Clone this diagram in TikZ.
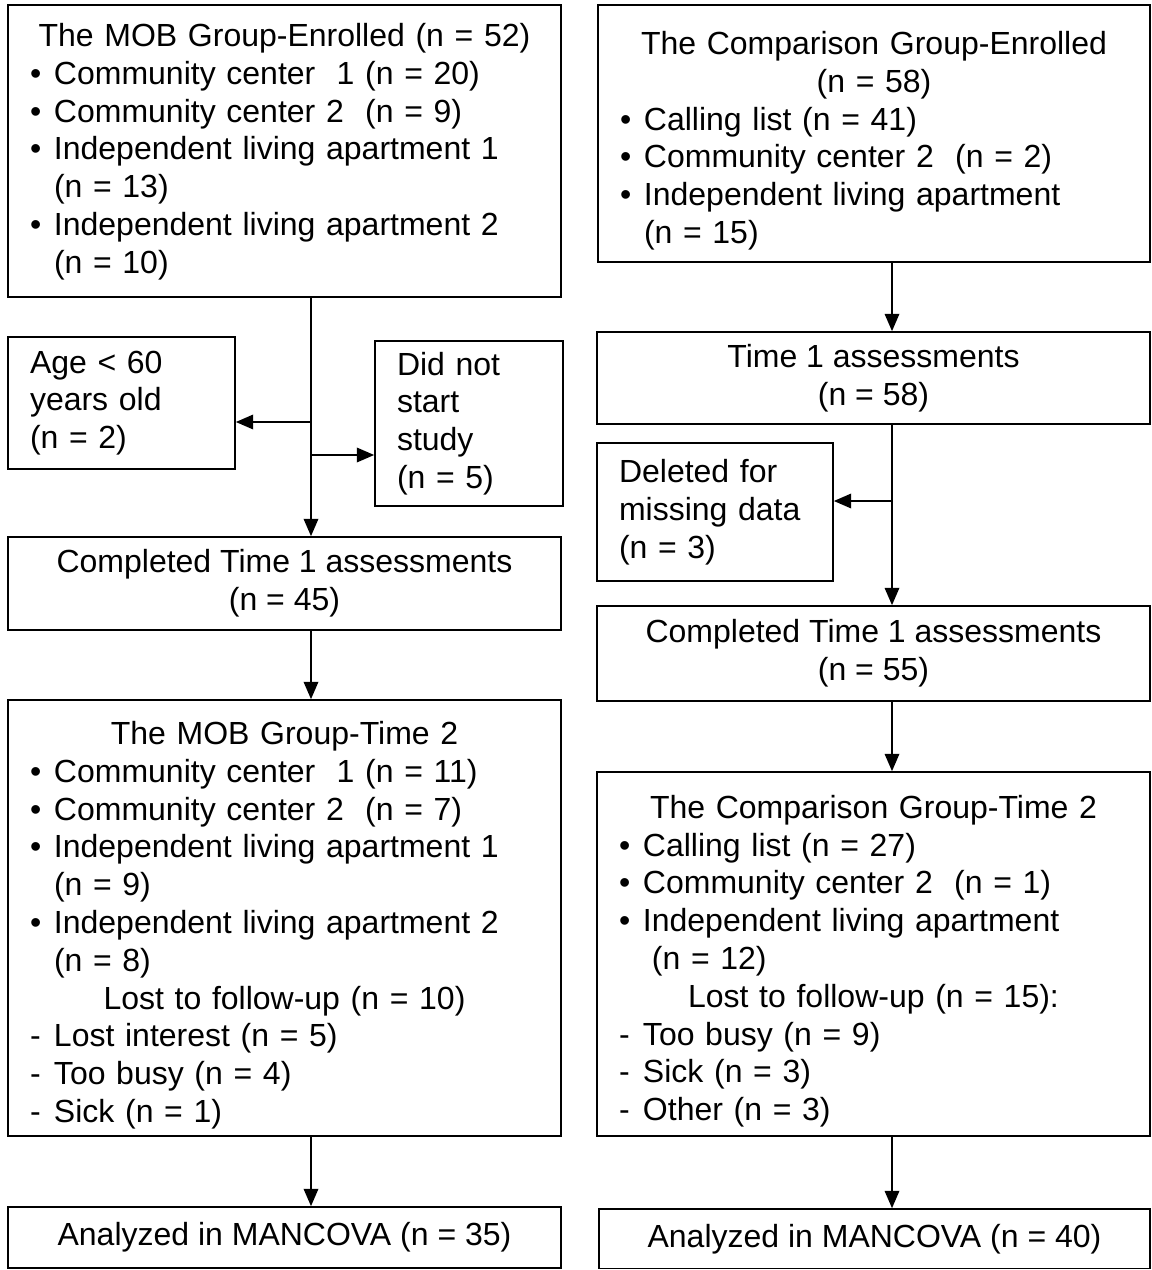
\documentclass[tikz,border=0pt]{standalone}
\usepackage{fontspec}
\setmainfont{Liberation Sans}
\usetikzlibrary{arrows.meta}

\newcommand{\hd}[1]{\par\centerline{#1}}
\newcommand{\itm}[2]{\par\hangindent=18pt\hangafter=1\noindent\makebox[18pt][l]{#1}#2\par}

\begin{document}
\begin{tikzpicture}[x=0.75pt,y=0.75pt,yscale=-1,xscale=1,
    box/.style={draw, line width=1.3pt, inner xsep=16.5pt, inner ysep=0pt,
      font=\fontsize{24}{28.35}\selectfont},
    arr/.style={line width=1pt, -{Triangle[length=13pt,width=11pt]}}]
    \useasboundingbox (0,0) rectangle (1152,1270);

    % MOB group, left column
    \node [box, minimum width=414.75pt, minimum height=219pt, text width=381.75pt] (L1) at (284.5,151) {%
      \hd{The MOB Group-Enrolled (n = 52)}
      \itm{\textbullet}{Community center~ 1 (n = 20)}
      \itm{\textbullet}{Community center 2~ (n = 9)}
      \itm{\textbullet}{Independent living apartment 1\newline (n = 13)}
      \itm{\textbullet}{Independent living apartment 2\newline (n = 10)}
      \vskip 10pt\hrule height 0pt};
    % Text Node
    \node [box, minimum width=170.25pt, minimum height=99pt, text width=137.25pt] (Age) at (121.5,403) {Age < 60\\years old\\(n = 2)};
    % Text Node
    \node [box, minimum width=141pt, minimum height=123.75pt, text width=108pt] (Did) at (469,423.5) {Did not\\start\\study\\(n = 5)};
    % Text Node
    \node [box, minimum width=414.75pt, minimum height=69.75pt, align=center] (L2) at (284.5,583.5) {Completed Time 1 assessments\\(n = 45)};
    % Text Node
    \node [box, minimum width=414.75pt, minimum height=327pt, text width=381.75pt] (L3) at (284.5,918) {%
      \hd{The MOB Group-Time 2}
      \itm{\textbullet}{Community center~ 1 (n = 11)}
      \itm{\textbullet}{Community center 2~ (n = 7)}
      \itm{\textbullet}{Independent living apartment 1\newline (n = 9)}
      \itm{\textbullet}{Independent living apartment 2\newline (n = 8)}
      \hd{Lost to follow-up (n = 10)}
      \itm{-}{Lost interest (n = 5)}
      \itm{-}{Too busy (n = 4)}
      \itm{-}{Sick (n = 1)}};
    % Text Node
    \node [box, minimum width=414.75pt, minimum height=45.75pt, align=center] (L4) at (284.5,1237.5) {Analyzed in MANCOVA (n = 35)};

    % Comparison group, right column
    \node [box, minimum width=414pt, minimum height=192.75pt, text width=381pt] (R1) at (874,133.5) {%
      \hd{The Comparison Group-Enrolled}
      \hd{(n = 58)}
      \itm{\textbullet}{Calling list (n = 41)}
      \itm{\textbullet}{Community center 2~ (n = 2)}
      \itm{\textbullet}{Independent living apartment\newline (n = 15)}};
    % Text Node
    \node [box, minimum width=414.75pt, minimum height=69pt, align=center] (R2) at (873.5,378) {Time 1 assessments\\(n = 58)};
    % Text Node
    \node [box, minimum width=177pt, minimum height=103.5pt, text width=144pt] (Del) at (715,512) {Deleted for\\missing data\\(n = 3)};
    % Text Node
    \node [box, minimum width=414.75pt, minimum height=71.25pt, align=center] (R3) at (873.5,653.5) {Completed Time 1 assessments\\(n = 55)};
    % Text Node
    \node [box, minimum width=414.75pt, minimum height=273pt, text width=381.75pt] (R4) at (873.5,954) {%
      \hd{The Comparison Group-Time 2}
      \itm{\textbullet}{Calling list (n = 27)}
      \itm{\textbullet}{Community center 2~ (n = 1)}
      \itm{\textbullet}{Independent living apartment\newline\hspace*{6.7pt}(n = 12)}
      \hd{Lost to follow-up (n = 15):}
      \itm{-}{Too busy (n = 9)}
      \itm{-}{Sick (n = 3)}
      \itm{-}{Other (n = 3)}};
    % Text Node
    \node [box, minimum width=413.25pt, minimum height=44.6pt, align=center] (R5) at (874.5,1238.75) {Analyzed in MANCOVA (n = 40)};

    % trunk lines and branch points
    \coordinate (tL) at (311,0);
    \coordinate (tR) at (892,0);
    \coordinate (jAge) at (311,422);
    \coordinate (jDid) at (311,455);
    \coordinate (jDel) at (893,501);

    \draw [arr] (L1.south -| tL) -- (L2.north -| tL);
    \draw [arr] (jAge) -- (jAge -| Age.east);
    \draw [arr] (jDid) -- (jDid -| Did.west);
    \draw [arr] (L2.south -| tL) -- (L3.north -| tL);
    \draw [arr] (L3.south -| tL) -- (L4.north -| tL);

    \draw [arr] (R1.south -| tR) -- (R2.north -| tR);
    \draw [arr] (R2.south -| tR) -- (R3.north -| tR);
    \draw [arr] (jDel) -- (jDel -| Del.east);
    \draw [arr] (R3.south -| tR) -- (R4.north -| tR);
    \draw [arr] (R4.south -| tR) -- (R5.north -| tR);

\end{tikzpicture}
\end{document}
